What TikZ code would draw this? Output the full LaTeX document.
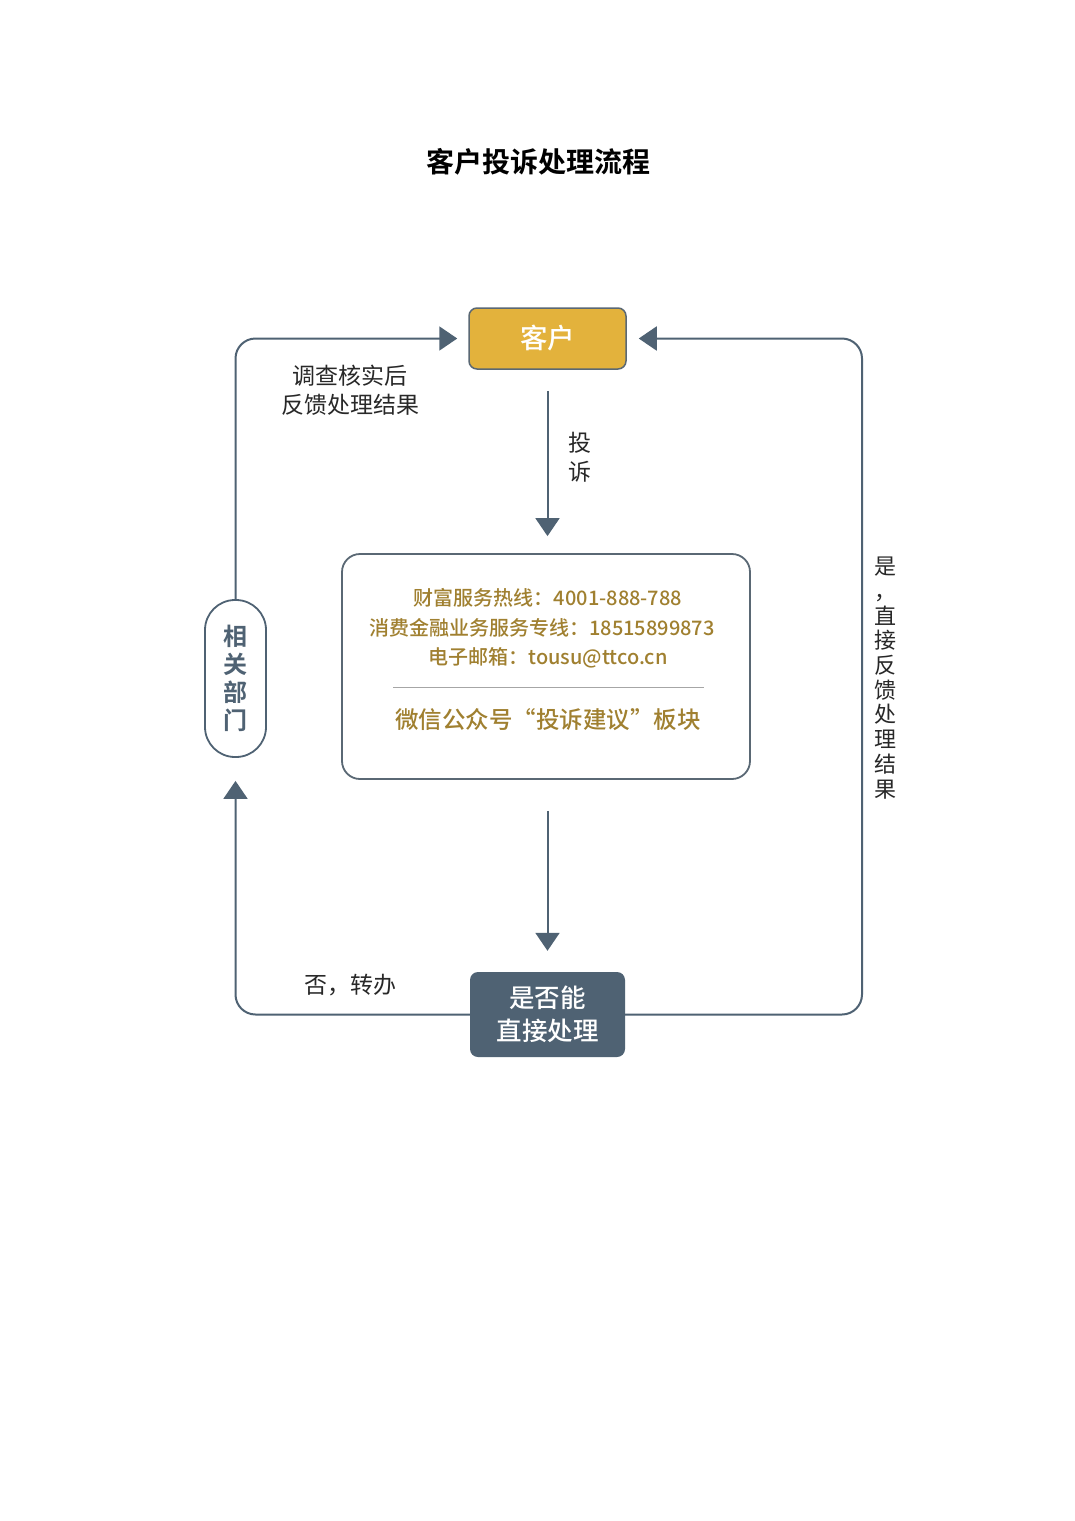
\documentclass[tikz,border=0pt]{standalone}
\usepackage{fontspec}
\setmainfont{Noto Sans CJK SC}[BoldFont={Noto Sans CJK SC Bold}]
\newfontfamily\mediumfont{Noto Sans CJK SC Medium}
\usetikzlibrary{arrows.meta,positioning}
\definecolor{slate}{RGB}{79,98,115}
\definecolor{rim}{RGB}{90,104,116}
\definecolor{gold}{RGB}{227,178,60}
\definecolor{goldtext}{RGB}{160,128,48}
\definecolor{ink}{RGB}{40,40,40}
\tikzset{
  titletext/.style={font=\fontsize{28}{30}\selectfont\bfseries, text=black},
  custbox/.style={draw=rim, line width=1.5pt, fill=gold, rounded corners=8pt,
    minimum width=157pt, minimum height=61pt, text=white, font=\fontsize{27.5}{30}\selectfont\mediumfont},
  infobox/.style={draw=rim, line width=1.8pt, rounded corners=18pt,
    minimum width=408pt, minimum height=225pt},
  decbox/.style={fill=slate, rounded corners=8pt, minimum width=155pt, minimum height=85pt,
    text=white, align=center, font=\fontsize{25.5}{33}\selectfont\mediumfont},
  deptbox/.style={draw=slate, line width=1.8pt, rounded corners=30pt,
    minimum width=61pt, minimum height=157pt, text=slate, align=center,
    font=\fontsize{24}{28}\selectfont\bfseries},
  infotext/.style={text=goldtext, font=\fontsize{20}{22}\selectfont\mediumfont},
  wechat/.style={text=goldtext, font=\fontsize{23.5}{26}\selectfont\mediumfont},
  sepline/.style={draw=black!35, line width=0.8pt},
  note/.style={text=ink, align=center, font=\fontsize{23}{29}\selectfont},
  vnote/.style={text=ink, align=center, font=\fontsize{22}{24.7}\selectfont},
  flow/.style={draw=slate, line width=2pt, -{Triangle[width=24pt,length=18pt]}}
}

\begin{document}
\begin{tikzpicture}[x=1pt,y=-1pt]
  \useasboundingbox[fill=white] (0,0) rectangle (1075,1521);
  % title
  \node[titletext] (title) at (538,162) {客户投诉处理流程};
  % main boxes
  \node[custbox] (cust) at (547.5,338.5) {客户};
  \node[infobox] (info) at (546,666.5) {};
  \node[decbox] (dec) at (547.5,1014.5) {是否能\\直接处理};
  \node[deptbox] (dept) at (235.5,678.5) {相\\关\\部\\门};
  % contact lines inside the box
  \node[infotext] (hotline) at (548,598) {财富服务热线：4001-888-788};
  \node[infotext] (loanline) at (542,628) {消费金融业务服务专线：18515899873};
  \node[infotext] (mail) at (548,658) {电子邮箱：tousu@ttco.cn};
  \coordinate (sepL) at (393,687);
  \coordinate (sepR) at (704,687);
  \draw[sepline] (sepL) -- (sepR);
  \node[wechat] (wechat) at (548,720) {微信公众号“投诉建议”板块};
  % downward flow
  \draw[flow, shorten <=21pt, shorten >=17pt] (cust.south) -- (cust.south |- info.north);
  \node[note] (complain) at (580,457) {投\\诉};
  \draw[flow, shorten <=31pt, shorten >=21pt] (info.south -| cust.south) -- (dec.north);
  % no: hand over to department
  \draw[flow, rounded corners=20pt, shorten >=23pt] (dec.west) -| (dept.south);
  \node[note] (notext) at (350,985) {否，转办};
  \draw[flow, rounded corners=20pt, shorten >=11pt] (dept.north) |- (cust.west);
  \node[note] (checktext) at (350,390) {调查核实后\\反馈处理结果};
  % yes: answer directly
  \coordinate (rtop) at (862,338.5);
  \draw[flow, rounded corners=20pt, shorten >=12pt] (dec.east) -| (rtop) -- (cust.east);
  \node[vnote] (yestext) at (885,678) {是\\，\\直\\接\\反\\馈\\处\\理\\结\\果};
\end{tikzpicture}
\end{document}
